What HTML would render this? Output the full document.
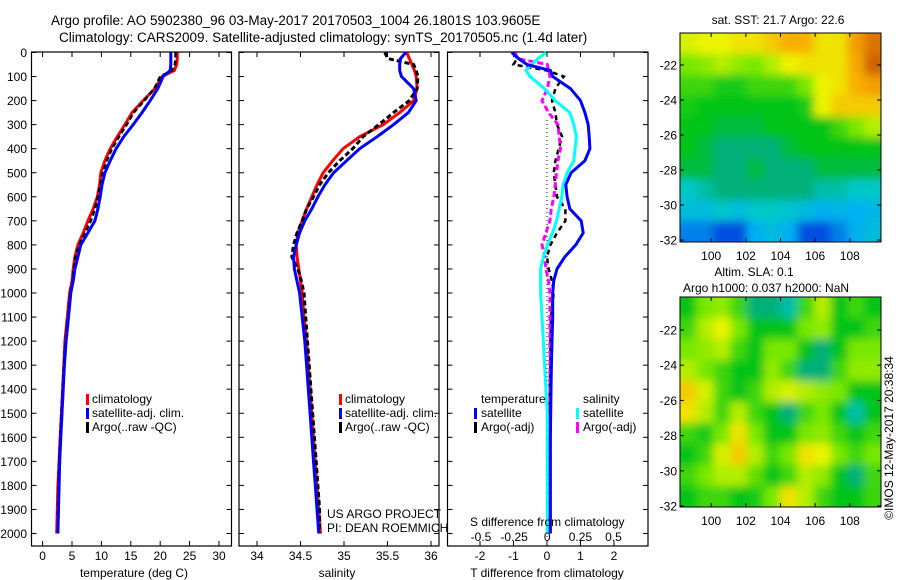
<!DOCTYPE html>
<html><head><meta charset="utf-8"><style>
html,body{margin:0;padding:0;background:#fff;}
svg{display:block;font-family:"Liberation Sans",sans-serif;}
text{fill:#000;}
</style></head><body>
<svg id="chart" width="900" height="580" viewBox="0 0 900 580" xmlns="http://www.w3.org/2000/svg">
<defs>
<filter id="blur" x="-5%" y="-5%" width="110%" height="110%"><feGaussianBlur stdDeviation="4.5"/></filter>
<clipPath id="clipMap1"><rect x="680" y="33" width="201" height="209"/></clipPath>
<clipPath id="clipMap2"><rect x="680" y="297" width="201" height="210"/></clipPath>
</defs>
<g font-size="13.5">
<text x="51" y="25">Argo profile: AO 5902380_96 03-May-2017 20170503_1004 26.1801S 103.9605E</text>
<text x="59" y="42">Climatology: CARS2009. Satellite-adjusted climatology: synTS_20170505.nc (1.4d later)</text>
</g>
<g id="layer"></g>
</svg>
<script>
// ---------- data ----------
const depths = [0,25,50,75,100,150,200,250,300,350,400,450,500,550,600,650,700,750,800,850,900,950,1000,1100,1200,1300,1400,1500,1600,1700,1800,1900,2000];
const tempClim = [22.9,22.9,22.8,22.4,20.3,19.1,17.1,15.2,14.0,12.7,11.5,10.6,9.9,9.7,9.3,8.6,7.7,6.9,6.0,5.5,5.2,5.0,4.6,4.2,3.8,3.6,3.4,3.2,3.0,2.8,2.6,2.5,2.4];
const tempSat  = [21.8,21.8,21.8,21.7,20.5,19.6,18.3,16.9,15.4,13.8,12.5,11.5,10.6,10.1,9.8,9.4,8.9,7.7,6.5,6.0,5.5,5.2,4.8,4.4,4.0,3.7,3.5,3.3,3.1,2.9,2.8,2.7,2.6];
const tempArgo = [22.6,22.6,22.5,22.0,20.0,19.0,17.3,15.5,14.3,13.0,11.8,10.9,10.2,9.8,9.4,8.9,8.2,7.2,6.2,5.6,5.3,5.1,4.7,4.3,3.9,3.6,3.4,3.2,3.0,2.8,2.7,2.6,2.55];
const salClim = [35.72,35.75,35.78,35.81,35.83,35.84,35.80,35.64,35.45,35.18,34.99,34.87,34.76,34.69,34.63,34.57,34.52,34.47,34.45,34.46,34.48,34.50,34.52,34.54,34.57,34.59,34.61,34.63,34.65,34.67,34.69,34.71,34.73];
const salSat  = [35.71,35.65,35.64,35.64,35.66,35.80,35.83,35.74,35.57,35.38,35.18,35.03,34.88,34.78,34.70,34.63,34.55,34.49,34.45,34.42,34.43,34.46,34.49,34.52,34.55,34.57,34.59,34.61,34.63,34.65,34.67,34.69,34.71];
const salArgo = [35.47,35.50,35.80,35.83,35.85,35.84,35.75,35.57,35.40,35.22,35.10,34.95,34.82,34.72,34.65,34.57,34.52,34.46,34.42,34.40,34.47,34.51,34.54,34.56,34.58,34.60,34.62,34.64,34.66,34.68,34.70,34.72,34.72];
const dTSat  = [-1.05,-0.85,-0.6,0.1,0.17,0.7,1.0,1.13,1.23,1.26,1.28,1.13,0.72,0.56,0.6,0.68,1.02,1.08,0.86,0.53,0.3,0.2,0.17,0.17,0.15,0.13,0.12,0.11,0.1,0.1,0.1,0.1,0.1];
const dTArgo = [-1.0,-0.9,-1.0,0.0,0.5,0.25,0.15,0.25,0.3,0.45,0.35,0.25,0.2,0.25,0.3,0.55,0.55,0.3,0.1,0.0,0.05,0.15,0.2,0.12,0.1,0.1,0.08,0.08,0.06,0.06,0.05,0.05,0.05];
const dSSat  = [-0.01,-0.07,-0.12,-0.16,-0.13,-0.02,0.06,0.17,0.2,0.22,0.21,0.2,0.15,0.12,0.11,0.09,0.07,0.04,0.0,-0.03,-0.05,-0.05,-0.05,-0.04,-0.03,-0.02,-0.01,0.0,0.0,0.0,0.0,0.0,0.0];
const dSArgo = [-0.24,-0.23,0.0,0.01,0.02,0.0,-0.04,0.01,0.08,0.09,0.1,0.08,0.07,0.06,0.05,0.03,0.02,-0.01,-0.04,-0.02,-0.01,0.01,0.02,0.02,0.02,0.02,0.02,0.02,0.02,0.02,0.02,0.02,0.02];
const depthTicks = [0,100,200,300,400,500,600,700,800,900,1000,1100,1200,1300,1400,1500,1600,1700,1800,1900,2000];
const tempTicks = [0,5,10,15,20,25,30];
const salTicks = [34,34.5,35,35.5,36];
const dTTicks = [-2,-1,0,1,2];
const dSTicks = [-0.5,-0.25,0,0.25,0.5];
const lonTicks = [100,102,104,106,108];
const latTicks = [-22,-24,-26,-28,-30,-32];
const sstGrid = [
[0.68,0.70,0.70,0.72,0.72,0.75,0.78,0.78,0.72,0.72,0.82,0.88],
[0.60,0.62,0.65,0.62,0.60,0.65,0.70,0.72,0.72,0.72,0.80,0.90],
[0.55,0.55,0.52,0.52,0.55,0.55,0.55,0.60,0.70,0.72,0.78,0.82],
[0.52,0.50,0.50,0.50,0.50,0.50,0.50,0.52,0.70,0.75,0.75,0.75],
[0.50,0.50,0.48,0.48,0.48,0.50,0.50,0.50,0.50,0.55,0.60,0.65],
[0.50,0.48,0.45,0.45,0.45,0.45,0.48,0.50,0.50,0.50,0.50,0.50],
[0.48,0.48,0.45,0.45,0.48,0.45,0.45,0.45,0.48,0.48,0.48,0.48],
[0.40,0.42,0.45,0.45,0.45,0.45,0.45,0.45,0.42,0.42,0.40,0.40],
[0.35,0.35,0.40,0.35,0.40,0.40,0.38,0.35,0.30,0.32,0.30,0.32],
[0.25,0.25,0.20,0.20,0.30,0.35,0.30,0.20,0.20,0.25,0.30,0.35]];
const slaGrid = [
[0.50,0.60,0.62,0.55,0.45,0.45,0.42,0.55,0.65,0.50,0.55,0.50],
[0.55,0.65,0.70,0.60,0.50,0.50,0.50,0.60,0.62,0.50,0.50,0.55],
[0.60,0.62,0.65,0.55,0.50,0.60,0.60,0.50,0.45,0.50,0.60,0.60],
[0.65,0.60,0.55,0.50,0.50,0.62,0.55,0.45,0.45,0.55,0.62,0.62],
[0.75,0.68,0.55,0.50,0.55,0.65,0.68,0.65,0.62,0.60,0.50,0.50],
[0.72,0.65,0.55,0.65,0.55,0.50,0.45,0.55,0.60,0.50,0.42,0.50],
[0.55,0.52,0.60,0.72,0.60,0.50,0.50,0.60,0.62,0.55,0.50,0.55],
[0.50,0.55,0.68,0.75,0.65,0.55,0.60,0.72,0.70,0.60,0.55,0.60],
[0.55,0.60,0.65,0.65,0.58,0.50,0.55,0.65,0.62,0.50,0.45,0.55],
[0.50,0.55,0.55,0.50,0.52,0.60,0.72,0.65,0.55,0.50,0.50,0.55]];

// ---------- helpers ----------
const NS='http://www.w3.org/2000/svg';
const layer=document.getElementById('layer');
function mk(tag,attrs,parent){const e=document.createElementNS(NS,tag);for(const k in attrs)e.setAttribute(k,attrs[k]);(parent||layer).appendChild(e);return e;}
const yD=d=>52.5+d*0.2405;
const PT=52, PB=546;
function lin(d0,d1,r0,r1){return v=>r0+(v-d0)*(r1-r0)/(d1-d0);}
const xT=lin(0,30,42.6,219);
const xS=lin(34,36,257,431);
const xdT=lin(-2,2,480,614);
const xdS=lin(-0.5,0.5,481,613.5);

function panel(name,x0,x1,ticks,xf,showY){
  const g=mk('g',{});
  
  
  const r=mk('rect',{x:x0,y:PT,width:x1-x0,height:PB-PT,fill:'none',stroke:'#000','stroke-width':1.2},g);
  
  
  depthTicks.forEach(d=>{
    const y=yD(d);
    mk('line',{x1:x0,x2:x0+5,y1:y,y2:y,stroke:'#000'},g);
    mk('line',{x1:x1-5,x2:x1,y1:y,y2:y,stroke:'#000'},g);
    if(showY){const t=mk('text',{x:27,y:y+4.5,'text-anchor':'end','font-size':12},g);t.textContent=d;
      
      }
  });
  if(ticks){ticks.forEach(v=>{const x=xf(v);
    mk('line',{x1:x,x2:x,y1:PB,y2:PB-5,stroke:'#000'},g);
    mk('line',{x1:x,x2:x,y1:PT,y2:PT+5,stroke:'#000'},g);
    const t=mk('text',{x:x,y:560,'text-anchor':'middle','font-size':12},g);t.textContent=v;
    
    });}
  return g;
}
function series(name,vals,xf,color,dash,w){
  const pts=vals.map((v,i)=>xf(v).toFixed(1)+','+yD(depths[i]).toFixed(1)).join(' ');
  const p=mk('polyline',{points:pts,fill:'none',stroke:color,'stroke-width':w||3,'stroke-dasharray':dash||'none'});
  
  
}
function txt(s,x,y,opts,name){const t=mk('text',Object.assign({x:x,y:y,'font-size':12},opts||{}));t.textContent=s;
  
  return t;}
function sw(x,y,c){const r=mk('rect',{x:x,y:y-9,width:3,height:11,fill:c});
  
  }

// ---------- panel 1: temperature ----------
panel('temperature-panel',31.5,231.5,tempTicks,xT,true);
series('temp-climatology-line',tempClim,xT,'#f00');
series('temp-argo-line',tempArgo,xT,'#000','5,3',2.5);
series('temp-satellite-line',tempSat,xT,'#00f');
txt('temperature (deg C)',134,577,{'text-anchor':'middle'},'x-axis-title-temperature');
sw(86,403,'#f00');txt('climatology',92,403,{},'legend-entry-climatology');
sw(86,417,'#00f');txt('satellite-adj. clim.',92,417,{},'legend-entry-satellite');
sw(86,431,'#000');txt('Argo(..raw -QC)',92,431,{},'legend-entry-argo');

// ---------- panel 2: salinity ----------
panel('salinity-panel',239,439,salTicks,xS,false);
series('sal-climatology-line',salClim,xS,'#f00');
series('sal-argo-line',salArgo,xS,'#000','5,3',3);
series('sal-satellite-line',salSat,xS,'#00f');
txt('salinity',337,577,{'text-anchor':'middle'},'x-axis-title-salinity');
sw(339,403,'#f00');txt('climatology',345,403,{},'legend-entry-climatology');
sw(339,417,'#00f');txt('satellite-adj. clim.',345,417,{},'legend-entry-satellite');
sw(339,431,'#000');txt('Argo(..raw -QC)',345,431,{},'legend-entry-argo');
txt('US ARGO PROJECT',327,518,{},'project-label');
txt('PI: DEAN ROEMMICH',327,532,{},'pi-label');

// ---------- panel 3: differences ----------
panel('difference-panel',447.5,648,dTTicks,xdT,false);
{const l=mk('line',{x1:xdT(0),x2:xdT(0),y1:120,y2:PB,stroke:'#000','stroke-dasharray':'1,3'});
 
 }
series('dT-argo-line',dTArgo,xdT,'#000','5,4',2.5);
series('dS-argo-line',dSArgo,xdS,'#f0f','6,3',3);
series('dS-satellite-line',dSSat,xdS,'#0ff');
series('dT-satellite-line',dTSat,xdT,'#00f');
dSTicks.forEach(v=>txt(String(v),xdS(v),541,{'text-anchor':'middle'},'s-tick-label'));
txt('S difference from climatology',470,526,{},'s-axis-title');
txt('T difference from climatology',547,577,{'text-anchor':'middle'},'x-axis-title-tdiff');
txt('temperature',481,403,{},'legend-header-temperature');
txt('salinity',583,403,{},'legend-header-salinity');
sw(474,417,'#00f');txt('satellite',481,417,{},'legend-entry-t-satellite');
sw(474,431,'#000');txt('Argo(-adj)',481,431,{},'legend-entry-t-argo');
sw(576,417,'#0ff');txt('satellite',583,417,{},'legend-entry-s-satellite');
sw(576,431,'#f0f');txt('Argo(-adj)',583,431,{},'legend-entry-s-argo');

// ---------- maps ----------
const stops=[[0.1,[0,16,160]],[0.2,[0,80,224]],[0.3,[0,176,240]],[0.4,[0,200,200]],[0.45,[0,176,120]],[0.5,[0,196,24]],[0.6,[120,232,0]],[0.7,[236,244,0]],[0.78,[248,176,0]],[0.85,[240,144,0]],[0.92,[192,80,0]]];
function cmap(v){if(v<=stops[0][0])return 'rgb('+stops[0][1]+')';
  for(let i=1;i<stops.length;i++){if(v<=stops[i][0]){const a=stops[i-1],b=stops[i],f=(v-a[0])/(b[0]-a[0]);
    return 'rgb('+a[1].map((c,k)=>Math.round(c+(b[1][k]-c)*f)).join(',')+')';}}
  return 'rgb('+stops[stops.length-1][1]+')';}
function map(name,grid,x0,y0,w,h,clip,yLat){
  const g=mk('g',{});
  
  
  const inner=mk('g',{'clip-path':'url(#'+clip+')'},g);
  const blurG=mk('g',{filter:'url(#blur)'},inner);
  const rows=grid.length,cols=grid[0].length,cw=w/cols,ch=h/rows;
  grid.forEach((row,r)=>row.forEach((v,c)=>{
    const cell=mk('rect',{x:x0+c*cw-(c==0?8:0),y:y0+r*ch-(r==0?8:0),width:cw+1+(c==0||c==cols-1?8:0),height:ch+1+(r==0||r==rows-1?8:0),fill:cmap(v)},blurG);
    
    
  }));
  mk('rect',{x:x0,y:y0,width:w,height:h,fill:'none',stroke:'#000','stroke-width':1},g);
  const xL=lin(98.2,109.8,x0,x0+w);
  lonTicks.forEach(v=>{const x=xL(v);
    mk('line',{x1:x,x2:x,y1:y0,y2:y0+4,stroke:'#000'},g);mk('line',{x1:x,x2:x,y1:y0+h,y2:y0+h-4,stroke:'#000'},g);
    const t=mk('text',{x:x,y:y0+h+18,'text-anchor':'middle','font-size':12},g);t.textContent=v;
    
    });
  latTicks.forEach(v=>{const y=yLat(v);
    mk('line',{x1:x0,x2:x0+4,y1:y,y2:y,stroke:'#000'},g);mk('line',{x1:x0+w-4,x2:x0+w,y1:y,y2:y,stroke:'#000'},g);
    const t=mk('text',{x:x0-3,y:y+4.5,'text-anchor':'end','font-size':12},g);t.textContent=v;
    
    });
}
map('sst-map',sstGrid,680,33,201,209,'clipMap1',lin(-22,-32,65,240));
map('sla-map',slaGrid,680,297,201,210,'clipMap2',lin(-22,-32,330,506));
txt('sat. SST: 21.7 Argo: 22.6',778,24,{'text-anchor':'middle'},'sst-map-title');
txt('Altim. SLA: 0.1',754,276,{'text-anchor':'middle'},'sla-map-title');
txt('Argo h1000: 0.037 h2000: NaN',766,292,{'text-anchor':'middle'},'sla-map-subtitle');
txt('©IMOS 12-May-2017 20:38:34',0,0,{'text-anchor':'middle',transform:'translate(893,438) rotate(-90)'},'timestamp-label');
</script>
</body></html>
